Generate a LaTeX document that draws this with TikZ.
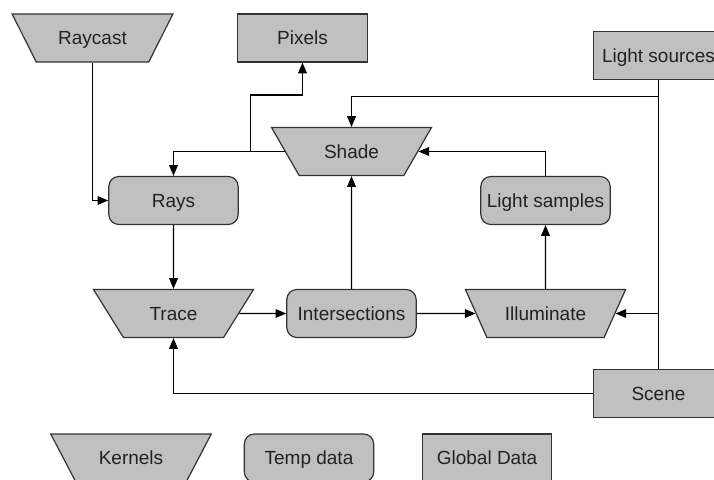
\documentclass[tikz,border=0pt]{standalone}
\usepackage{fontspec}
\setmainfont{Liberation Sans}
\usetikzlibrary{shapes.geometric,arrows.meta}
\definecolor{boxgrey}{HTML}{C0C0C0}
\definecolor{edgegrey}{HTML}{333333}
\definecolor{textgrey}{HTML}{222222}

\begin{document}
\begin{tikzpicture}[x=0.75pt,y=-0.75pt,
  font=\fontsize{14.25}{17}\selectfont,
  box/.style={draw=edgegrey,fill=boxgrey,text=textgrey,line width=0.9pt,minimum height=36pt,inner sep=2pt,text height=10.2pt,text depth=0pt},
  buffer/.style={box,minimum width=97pt},
  temp/.style={buffer,rounded corners=7.5pt},
  kernel/.style={box,trapezium,trapezium left angle=130,trapezium right angle=130,trapezium stretches=true,minimum width=120.75pt},
  flow/.style={draw=black,line width=0.9pt,-{Triangle[length=8pt,width=6.5pt]}},
  wire/.style={draw=black,line width=0.9pt}]
\useasboundingbox (0,0) rectangle (714,479);
%kernels, buffers and temp data
\node[kernel] (raycast) at (92.5,38) {Raycast};
\node[buffer] (pixels) at (302.5,38) {Pixels};
\node[buffer] (lights) at (658.5,55.5) {Light sources};
\node[kernel] (shade) at (351.5,151.5) {Shade};
\node[temp] (rays) at (173.5,200.5) {Rays};
\node[temp] (lsamples) at (545.5,200.5) {Light samples};
\node[kernel] (trace) at (173.5,313.5) {Trace};
\node[temp] (isects) at (351.5,313.5) {Intersections};
\node[kernel] (illum) at (545.5,313.5) {Illuminate};
\node[buffer] (scene) at (658.5,393.5) {Scene};
%legend
\node[kernel] (kernels) at (131,458) {Kernels};
\node[temp] (tempdata) at (309,458) {Temp data};
\node[buffer] (global) at (487,458) {Global Data};
%connections
\path (shade.west) ++(-34,0) coordinate (split);
\path (lights.south) ++(0,16) coordinate (lbend);
\draw[flow] (raycast.south) |- (rays.west);
\draw[flow] (shade.west) -| (rays.north);
\draw[flow] (split) -- ++(0,-56.5) -| (pixels.south);
\draw[flow] (lights.south) -- (lbend) -| (shade.north);
\draw[wire] (lbend) -- (scene.north);
\draw[flow] (scene.north |- illum.east) -- (illum.east);
\draw[flow] (lsamples.north) |- (shade.east);
\draw[flow] (illum.north) -- (lsamples.south);
\draw[flow] (rays.south) -- (trace.north);
\draw[flow] (trace.east) -- (isects.west);
\draw[flow] (isects.east) -- (illum.west);
\draw[flow] (isects.north) -- (shade.south);
\draw[flow] (scene.west) -| (trace.south);
\end{tikzpicture}
\end{document}
